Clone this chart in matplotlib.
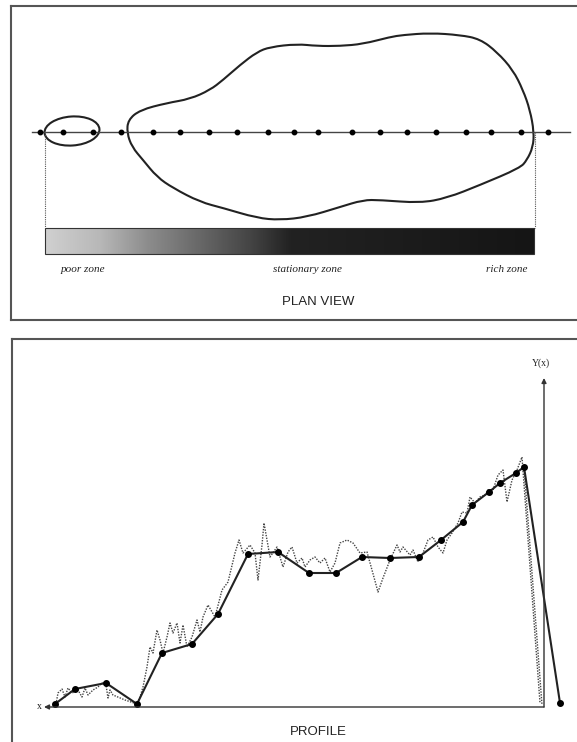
import matplotlib.pyplot as plt
import numpy as np
from matplotlib.colors import LinearSegmentedColormap
from matplotlib.patches import Ellipse, PathPatch, Rectangle
from matplotlib.path import Path

# ---- plan view data (distance along traverse, lateral offset) ----
sample_x = [504, 481, 451, 423, 391, 364, 335, 307, 276, 250, 226, 192,
            164, 137, 108, 78, 53, 23, -4]

blob_x = [417, 416, 404, 377, 354, 334, 321, 304, 287, 274, 247, 227, 204,
          181, 154, 141, 114, 84, 64, 47, 31, 21, 14, 10, 11, 17, 24, 64,
          97, 124, 164, 181, 204, 237, 264, 287, 321, 344, 371, 387, 401, 412]
blob_y = [-1, 12, 22, 29, 33, 42, 52, 67, 80, 85, 88, 86, 86, 88, 95, 97,
          99, 97, 93, 80, 62, 42, 22, 0, -15, -28, -36, -53, -66, -71, -68,
          -68, -75, -85, -88, -86, -76, -70, -56, -45, -28, -15]

zone_labels = ['poor zone', 'stationary zone', 'rich zone']
zone_x = [461, 237, 37]

# ---- profile data ----
point_x = [489, 469, 438, 407, 382, 352, 326, 296, 266, 235, 208, 182, 154,
           125, 103, 81, 72, 55, 44, 28, 20, -16]
point_y = [3, 18, 24, 3, 54, 63, 93, 153, 155, 134, 134, 150, 149, 150, 167,
           185, 202, 215, 224, 234, 240, 4]

true_x = [488, 486, 482, 479, 476, 472, 466, 462, 459, 456, 451, 446, 442,
          438, 436, 434, 431, 419, 407, 404, 401, 397, 394, 391, 387, 384,
          381, 377, 374, 371, 367, 364, 361, 357, 352, 347, 344, 341, 336,
          329, 322, 316, 309, 305, 301, 294, 289, 286, 282, 280, 277, 274,
          267, 261, 256, 252, 247, 242, 239, 234, 229, 224, 219, 214, 209,
          204, 197, 191, 184, 177, 172, 166, 161, 154, 147, 144, 141, 134,
          131, 126, 121, 116, 111, 106, 101, 97, 92, 86, 82, 77, 74, 69, 64,
          59, 56, 51, 46, 41, 37, 32, 27, 22, 4]
true_y = [3, 14, 18, 10, 19, 14, 17, 10, 19, 12, 17, 20, 24, 22, 9, 17, 12,
          7, 3, 10, 20, 40, 60, 54, 77, 67, 54, 70, 84, 74, 84, 64, 82, 60,
          70, 87, 75, 90, 102, 90, 117, 125, 154, 167, 154, 162, 154, 127,
          162, 184, 167, 150, 160, 140, 155, 160, 144, 149, 140, 147, 150,
          144, 149, 135, 144, 164, 167, 164, 154, 155, 137, 115, 129, 147,
          162, 155, 160, 152, 157, 145, 154, 167, 170, 160, 154, 167, 174,
          184, 195, 194, 210, 204, 210, 212, 217, 217, 232, 237, 205, 227,
          237, 250, 4]


def smooth_outline(xs, ys):
    # closed quadratic curve through the midpoints, outline points as controls
    pts = np.column_stack([xs, ys]).astype(float)
    mids = (pts + np.roll(pts, -1, axis=0)) / 2
    verts = [mids[-1]]
    codes = [Path.MOVETO]
    for p, m in zip(pts, mids):
        verts += [p, m]
        codes += [Path.CURVE3, Path.CURVE3]
    return Path(verts, codes)


W, H = 577, 742
fig = plt.figure(figsize=(W / 100, H / 100), dpi=100)
edge = '#555555'

# ---------------- PLAN VIEW ----------------
ax1 = fig.add_axes([11 / W, 1 - 320 / H, (600 - 11) / W, (320 - 6) / H])
ax1.set_xlim(533, -56)
ax1.set_ylim(-188, 126)
ax1.set_xticks([])
ax1.set_yticks([])
for s in ax1.spines.values():
    s.set_color(edge)
    s.set_linewidth(1.5)

ax1.plot([512, -26], [0, 0], color='#444444', lw=1.0)
ax1.plot(sample_x, [0] * len(sample_x), 'o', color='black', ms=3.2)
ax1.add_patch(Ellipse((472, 1), 55, 29, angle=-4, fill=False,
                      ec='#222222', lw=1.5))
ax1.add_patch(PathPatch(smooth_outline(blob_x, blob_y), fill=False,
                        ec='#222222', lw=1.5))
for xv in [499, 9]:
    ax1.plot([xv, xv], [0, -96], color='#555555', lw=0.8, ls=(0, (1, 1)))

grad_cmap = LinearSegmentedColormap.from_list(
    'zone', [(0.0, '#d0d0d0'), (0.11, '#b8b8b8'), (0.21, '#8c8c8c'),
             (0.32, '#666666'), (0.42, '#444444'), (0.50, '#222222'),
             (1.0, '#151515')])
grad = np.linspace(0, 1, 256).reshape(1, -1)
ax1.imshow(grad, cmap=grad_cmap, aspect='auto',
           extent=(499, 10, -122, -96), zorder=2)
ax1.add_patch(Rectangle((10, -122), 489, 26, fill=False, ec='#333333',
                        lw=0.8, zorder=3))

for lab, xv in zip(zone_labels, zone_x):
    ax1.text(xv, -138, lab, ha='center', va='center', fontsize=8,
             family='Liberation Serif', style='italic', color='#222222')
ax1.text(226, -170, 'PLAN VIEW', ha='center', va='center', fontsize=9.5,
         family='Liberation Sans', color='#222222')

# ---------------- PROFILE ----------------
ax2 = fig.add_axes([12 / W, 1 - 760 / H, (600 - 12) / W, (760 - 339) / H])
ax2.set_xlim(532, -56)
ax2.set_ylim(-53, 368)
ax2.set_xticks([])
ax2.set_yticks([])
for s in ax2.spines.values():
    s.set_color(edge)
    s.set_linewidth(1.5)

ax2.annotate('', xy=(500, 0), xytext=(0, 0),
             arrowprops=dict(arrowstyle='-|>', color='#333333', lw=1.0,
                             mutation_scale=7, shrinkA=0, shrinkB=0))
ax2.annotate('', xy=(0, 329), xytext=(0, 0),
             arrowprops=dict(arrowstyle='-|>', color='#333333', lw=1.0,
                             mutation_scale=7, shrinkA=0, shrinkB=0))
ax2.text(505, 1, 'x', ha='center', va='center', fontsize=7,
         family='Liberation Serif', color='#222222')
ax2.text(3, 344, 'Y(x)', ha='center', va='center', fontsize=7,
         family='Liberation Serif', color='#222222')

ax2.plot(true_x, true_y, color='#444444', lw=1.0, ls=(0, (1, 1)))
ax2.plot([20, 2], [240, 2], color='#444444', lw=1.0, ls=(0, (1, 1)))
ax2.plot(point_x, point_y, color='#222222', lw=1.5)
ax2.plot(point_x, point_y, 'o', color='black', ms=4)

ax2.text(226, -25, 'PROFILE', ha='center', va='center', fontsize=9.5,
         family='Liberation Sans', color='#222222')

fig.savefig('out.png', dpi=100)
